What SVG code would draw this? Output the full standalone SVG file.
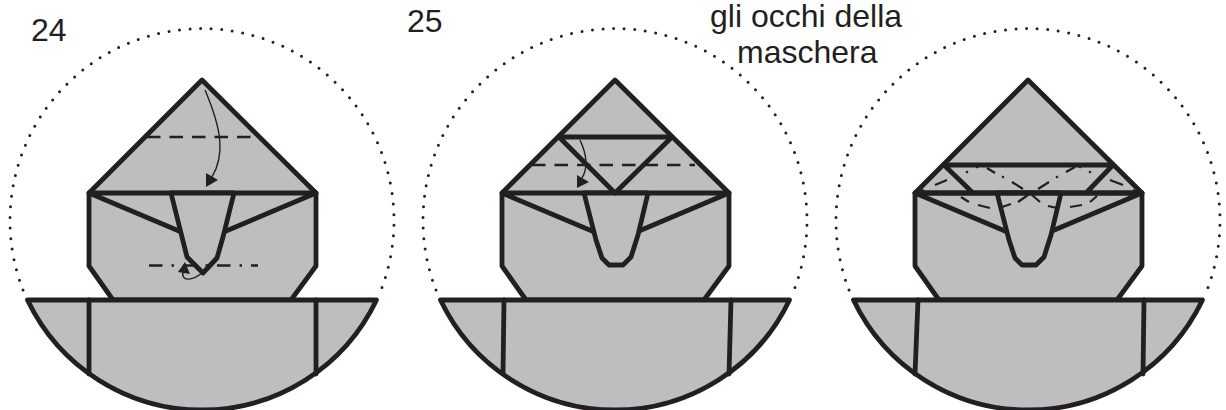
<svg xmlns="http://www.w3.org/2000/svg" width="1226" height="410" viewBox="0 0 1226 410">
<style>
.f{fill:#bcbec0;stroke:#231f20;stroke-width:4.8;stroke-linejoin:round;stroke-linecap:round}
.l{fill:none;stroke:#231f20;stroke-width:4.8;stroke-linejoin:round;stroke-linecap:round}
.dots{fill:none;stroke:#231f20;stroke-width:3;stroke-linecap:round;stroke-dasharray:0 10.6}
.dash{fill:none;stroke:#231f20;stroke-width:2.7;stroke-dasharray:13.5 9}
.mtn{fill:none;stroke:#231f20;stroke-width:2.7;stroke-dasharray:13.5 9 2.5 9}
.seg{fill:none;stroke:#231f20;stroke-width:2.2}
.arr{fill:none;stroke:#231f20;stroke-width:1.4}
.h{fill:#231f20}
text{font-family:"Liberation Sans",Arial,sans-serif;font-size:32px;fill:#231f20}
</style>
<defs>
<g id="base">
<path class="dots" d="M23,290A192,192 0 1 1 381,290"/>
<path class="f" d="M202,80L316,193V266L291,300H113L89,266V193Z"/>
<path class="f" d="M27.5,300H376.5A193.400,193.400 0 0 1 27.5,300Z"/>
<path class="l" d="M89,193H316M89,193L179,231M316,193L226,231"/>
</g>
</defs>
<g id="panel-24">
<use href="#base"/>
<path class="l" d="M89,300V374M316,300V374"/>
<path class="f" d="M171,193L181,233L187,257L203,273L217,258L223,237L234,193Z"/>
</g>
<g id="panel-25">
<use href="#base" x="413"/>
<path class="l" d="M504,300L503,374M731,300L729,374"/>
<path class="f" d="M584,193L596,240L602,258L609,265H623L631,257L638,235L648,193Z"/>
<path class="l" d="M559,137H672M559,137L615,193L672,137"/>
</g>
<g id="panel-mask">
<use href="#base" x="826"/>
<path class="l" d="M918,300L915,374M1144,300L1143,374"/>
<path class="f" d="M997,193L1009,240L1015,258L1022,265H1036L1044,257L1051,235L1061,193Z"/>
<path class="seg" d="M921,191L924,190M935,185L947,180M966,172.500L968,171.500M976,167.500L978,166.500M987,168L995,173M1002,176.500L1004,177.500M1012,182L1023,189M1018,202L1028,195M1032,195L1040,202M1002,207L1011,204M978,205L990,208M961,197L969,202"/>
<path class="seg" d="M1133,190L1136,191M1110,180L1123,185M1089,171.500L1091,172.500M1079,166.500L1081,167.500M1066,172L1075,167M1056,177.500L1058,176.500M1038,189L1049,182M1048,206L1057,208M1070,207L1082,205M1090,202L1097,196"/>
<path class="l" d="M944,165H1113M944,165L973,193M1113,165L1086,193M915,193H1142"/>
</g>
<g id="connectors">
<path class="dash" d="M147,137H258"/>
<path class="mtn" d="M149,265.500H258"/>
<path class="arr" d="M205,90C222,130 225,155 212,177"/>
<path class="h" d="M206,173L218,180L206,187Z"/>
<path class="arr" d="M203,272C194,280 185,281 183,276C182,274 183,272 184,270"/>
<path class="h" d="M178,272L185,262L190,274Z"/>
<path class="dash" d="M532,165H695"/>
<path class="arr" d="M580,140C587,155 588,168 582,178"/>
<path class="h" d="M577,175L589,182L577,188Z"/>
</g>
<g id="labels">
<text x="31" y="41">24</text>
<text x="407" y="32">25</text>
<text x="710" y="27">gli occhi della</text>
<text x="737" y="63">maschera</text>
</g>
</svg>
